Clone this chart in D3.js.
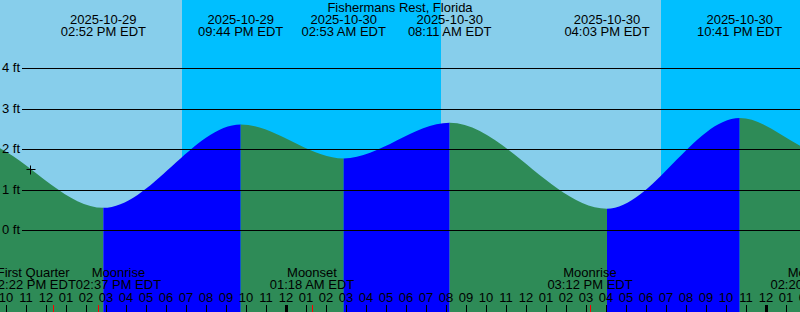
<!DOCTYPE html>
<html>
<head>
<meta charset="utf-8">
<script src="https://cdn.jsdelivr.net/npm/d3@7"></script>
<style>
  body { margin: 0; background: #fff; }
  svg { display: block; }
  text { font-family: "Liberation Sans", Arial, sans-serif; font-size: 13px; fill: #000; }
</style>
</head>
<body>
<svg id="tide_chart"></svg>
<script>
// station + time window
const stationName = 'Fishermans Rest, Florida'
const windowStart = '2025-10-29 09:42'
const windowEnd = '2025-10-31 01:42'

// high / low tides (feet)
const tideTimes = ['2025-10-29 02:30', '2025-10-29 08:12', '2025-10-29 14:52', '2025-10-29 21:44', '2025-10-30 02:53',
                   '2025-10-30 08:11', '2025-10-30 16:03', '2025-10-30 22:41', '2025-10-31 03:12', '2025-10-31 09:10']
const tideLevels = [1.50, 2.25, 0.56, 2.62, 1.78, 2.66, 0.54, 2.78, 1.85, 2.60]

// sun
const sunTimes = ['2025-10-29 18:48', '2025-10-30 07:45', '2025-10-30 18:45']
const sunKinds = ['Sunset', 'Sunrise', 'Sunset']

// moon events and phases
const moonNames = ['First Quarter', 'Moonrise', 'Moonset', 'Moonrise', 'Moonset']
const moonTimes = ['2025-10-29 12:22', '2025-10-29 14:37', '2025-10-30 01:18', '2025-10-30 15:12', '2025-10-31 02:20']

// y axis ticks
const feetTicks = [0, 1, 2, 3, 4]

// current time marker
const nowTime = '2025-10-29 11:12'
const nowLevel = 1.51

const W = 800, H = 312
const dayColor = '#87ceeb', nightColor = '#00bfff'
const risingColor = '#0000ff', fallingColor = '#2e8b57'

const parse = d3.timeParse('%Y-%m-%d %H:%M')
const fmtDate = d3.timeFormat('%Y-%m-%d')
const fmtTime = d3.timeFormat('%I:%M %p EDT')
const fmtHour = d3.timeFormat('%I')

let tides = tideTimes.map((t, i) => ({time: parse(t), level: tideLevels[i]}))

let xScale = d3.scaleTime().domain([parse(windowStart), parse(windowEnd)]).range([0, W])
let yScale = d3.scaleLinear().domain([0, 4]).range([230.5, 68.5])

let svg = d3.select('#tide_chart').attr('width', W).attr('height', H)

// sky: night everywhere, then daylight spans
svg.append('rect').attr('width', W).attr('height', H).attr('fill', nightColor)
let bounds = [xScale.domain()[0]].concat(sunTimes.map(parse), [xScale.domain()[1]])
let kinds = ['Sunrise'].concat(sunKinds)
for (let i = 0; i < bounds.length - 1; i++) {
    if (kinds[i] == 'Sunrise') {
        svg.append('rect')
            .attr('x', xScale(bounds[i]))
            .attr('width', xScale(bounds[i + 1]) - xScale(bounds[i]))
            .attr('height', H)
            .attr('fill', dayColor)
    }
}

// water: clip to area under the curve, colour by rising / falling
let area = d3.area()
    .x(d => xScale(d.time))
    .y0(H)
    .y1(d => yScale(d.level))
    .curve(d3.curveMonotoneX)

svg.append('clipPath').attr('id', 'water')
    .append('path').attr('d', area(tides))

let water = svg.append('g').attr('clip-path', 'url(#water)')
water.selectAll('rect')
    .data(d3.pairs(tides))
    .enter().append('rect')
    .attr('x', d => xScale(d[0].time))
    .attr('width', d => xScale(d[1].time) - xScale(d[0].time))
    .attr('y', 0)
    .attr('height', H)
    .attr('fill', d => d[1].level > d[0].level ? risingColor : fallingColor)

// feet grid lines
let grid = svg.append('g')
grid.selectAll('line')
    .data(feetTicks)
    .enter().append('line')
    .attr('x1', 22).attr('x2', W)
    .attr('y1', d => Math.floor(yScale(d)) + 0.5)
    .attr('y2', d => Math.floor(yScale(d)) + 0.5)
    .attr('stroke', '#000')
grid.selectAll('text')
    .data(feetTicks)
    .enter().append('text')
    .attr('x', 2)
    .attr('y', d => Math.floor(yScale(d)) + 4)
    .text(d => d + ' ft')

// now marker
let nx = Math.round(xScale(parse(nowTime))) + 0.5
let ny = Math.round(yScale(nowLevel)) + 0.5
svg.append('path')
    .attr('d', `M${nx - 4},${ny}H${nx + 5}M${nx},${ny - 4}V${ny + 5}`)
    .attr('stroke', '#000')

// title
svg.append('text')
    .attr('x', W / 2).attr('y', 12)
    .attr('text-anchor', 'middle')
    .text(stationName)

// high / low labels along the top
let shown = tides.filter(d => xScale(d.time) >= 0 && xScale(d.time) <= W)
let tideLabels = svg.selectAll('.tidelabel')
    .data(shown)
    .enter().append('g')
    .attr('class', 'tidelabel')
    .attr('transform', d => `translate(${xScale(d.time)},0)`)
tideLabels.append('text').attr('y', 24).attr('text-anchor', 'middle').text(d => fmtDate(d.time))
tideLabels.append('text').attr('y', 36).attr('text-anchor', 'middle').text(d => fmtTime(d.time))

// hour ticks and labels
let hours = d3.timeHour.range(d3.timeHour.offset(xScale.domain()[0], -1), d3.timeHour.offset(xScale.domain()[1], 2))
let axis = svg.append('g')
axis.selectAll('line')
    .data(hours)
    .enter().append('line')
    .attr('x1', d => Math.round(xScale(d)) + 0.5)
    .attr('x2', d => Math.round(xScale(d)) + 0.5)
    .attr('y1', 305).attr('y2', H)
    .attr('stroke', '#000')
    .attr('stroke-width', d => d.getHours() == 0 ? 3 : 1)
axis.selectAll('text')
    .data(hours)
    .enter().append('text')
    .attr('x', d => xScale(d))
    .attr('y', 302)
    .attr('text-anchor', 'middle')
    .text(d => fmtHour(d))

// moon events: red ticks + two-line labels
let moon = moonNames.map((n, i) => ({name: n, time: parse(moonTimes[i])}))
svg.append('g').selectAll('line')
    .data(moon)
    .enter().append('line')
    .attr('x1', d => Math.round(xScale(d.time)) + 0.5)
    .attr('x2', d => Math.round(xScale(d.time)) + 0.5)
    .attr('y1', 305).attr('y2', H)
    .attr('stroke', 'red')

let moonLabels = svg.selectAll('.moonlabel')
    .data(moon)
    .enter().append('g')
    .attr('class', 'moonlabel')
moonLabels.append('text').attr('y', 277).attr('text-anchor', 'middle').text(d => d.name)
moonLabels.append('text').attr('y', 289).attr('text-anchor', 'middle').text(d => fmtTime(d.time))

// push overlapping labels apart
moonLabels.each(function(d) {
    d.w = d3.max(d3.select(this).selectAll('text').nodes(), n => n.getComputedTextLength())
    d.cx = xScale(d.time)
})
for (let i = 0; i < moon.length - 1; i++) {
    let a = moon[i], b = moon[i + 1]
    let overlap = (a.cx + a.w / 2) - (b.cx - b.w / 2)
    if (overlap > 0) {
        a.cx -= overlap / 2
        b.cx += overlap / 2
    }
}
moonLabels.attr('transform', d => `translate(${d.cx},0)`)
</script>
</body>
</html>
